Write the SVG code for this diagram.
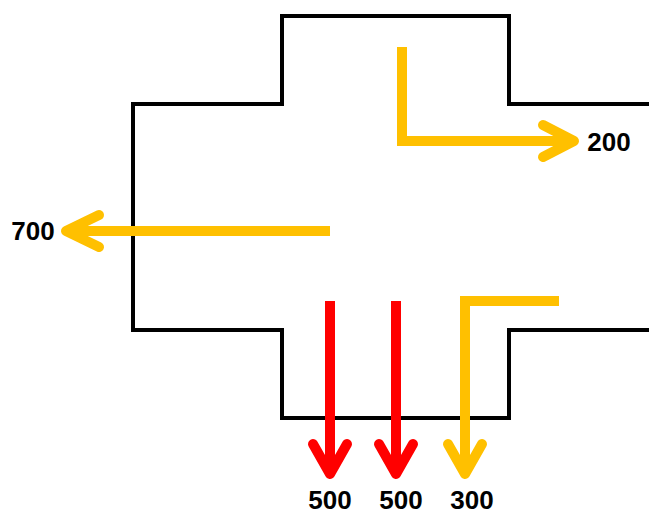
<svg xmlns="http://www.w3.org/2000/svg" width="649" height="514" viewBox="0 0 649 514">
<style>
.outline{fill:none;stroke:#000;stroke-width:4}
.y{fill:none;stroke:#FFC000;stroke-width:10}
.r{fill:none;stroke:#FF0000;stroke-width:10}
.head{stroke-linecap:round;stroke-linejoin:round}
.lbl{font-family:"Liberation Sans",Arial,sans-serif;font-weight:bold;font-size:26px;fill:#000;text-anchor:middle}
</style>
<rect width="649" height="514" fill="#fff"/>
<g id="building">
<path class="outline" d="M649,104 H509 V16 H282 V104 H133 V330 H282 V418 H509 V330 H649"/>
</g>
<g id="connectors">
<path class="y" d="M402,47 V141 H570"/>
<path class="y head" d="M543,125 L574,141 L543,157"/>
<path class="y" d="M330,231 H68"/>
<path class="y head" d="M99,215 L66,231 L99,247"/>
<path class="r" d="M330,301 V472"/>
<path class="r head" d="M313,444 L330,474 L347,444"/>
<path class="r" d="M396,301 V472"/>
<path class="r head" d="M379,444 L396,474 L413,444"/>
<path class="y" d="M559,301 H465 V472"/>
<path class="y head" d="M448,444 L465,474 L482,444"/>
</g>
<g id="labels">
<text class="lbl" x="33" y="240">700</text>
<text class="lbl" x="609" y="151">200</text>
<text class="lbl" x="330" y="509">500</text>
<text class="lbl" x="401" y="509">500</text>
<text class="lbl" x="472" y="509">300</text>
</g>
</svg>
